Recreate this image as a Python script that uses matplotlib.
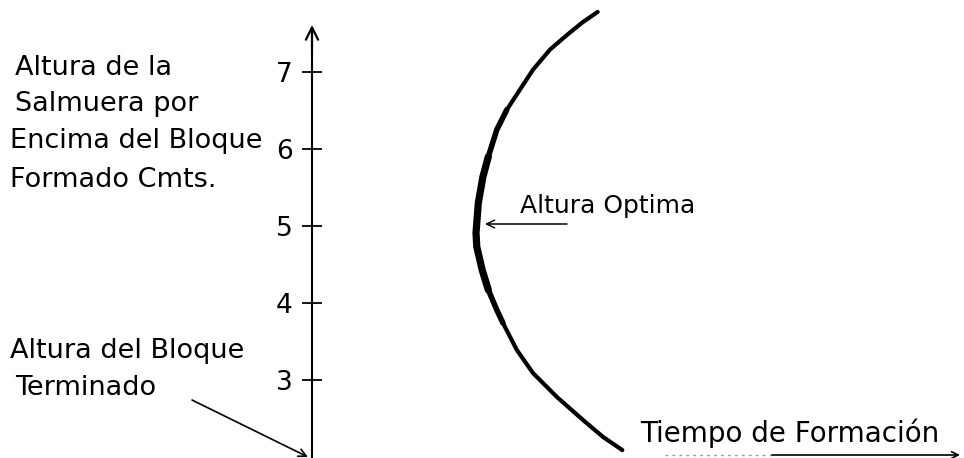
import numpy as np
from matplotlib import pyplot as plt

# curve: (time, height in cm)
tiempo = [3.71, 3.52, 3.31, 3.09, 2.87, 2.70, 2.53, 2.40, 2.29, 2.22, 2.16, 2.13,
          2.14, 2.21, 2.29, 2.40, 2.48, 2.66, 2.87, 3.18, 3.52, 3.78, 4.03]
altura = [7.78, 7.65, 7.48, 7.29, 7.03, 6.77, 6.51, 6.25, 5.90, 5.64, 5.30, 4.91,
          4.73, 4.43, 4.17, 3.91, 3.74, 3.39, 3.09, 2.78, 2.48, 2.26, 2.09]
y_ticks = [3, 4, 5, 6, 7]
y_tick_labels = ["3", "4", "5", "6", "7"]

W, H = 964, 458
FONT = "DejaVu Sans"


def px(x, y):
    # pixel position -> axes fraction (axes covers the figure)
    return x / W, 1 - y / H


fig = plt.figure(figsize=(W / 100, H / 100), dpi=100)
ax = fig.add_axes([0, 0, 1, 1])
ax.set_xlim(-312 / 77, 652 / 77)
ax.set_ylim(2 - 1 / 77, 2 + 457 / 77)

for s in ["top", "right", "bottom"]:
    ax.spines[s].set_visible(False)
ax.spines["left"].set_position(("data", 0))
ax.spines["left"].set_linewidth(1.5)
ax.spines["left"].set_bounds(2 - 1 / 77, 7.4)
ax.set_xticks([])
ax.set_yticks(y_ticks)
ax.set_yticklabels(y_tick_labels, fontsize=19, family=FONT)
ax.tick_params(axis="y", direction="inout", length=14, width=1.3, pad=7)

# arrow head on the y axis
ax.annotate("", xy=(0, 2 + 432 / 77), xytext=(0, 7.3),
            arrowprops=dict(arrowstyle="->", lw=1.6, color="black",
                            mutation_scale=22, shrinkA=0, shrinkB=0))

# the curve, thicker around the optimum
t = np.array(tiempo)
a = np.array(altura)
style = dict(color="black", solid_capstyle="round", solid_joinstyle="round")
ax.plot(t, a, lw=3.0, **style)
mid = (a > 3.6) & (a < 6.6)
ax.plot(t[mid], a[mid], lw=4.0, **style)
core = (a > 4.1) & (a < 5.95)
ax.plot(t[core], a[core], lw=5.2, **style)

# left labels
left_lines = [("Altura de la", 15, 75), ("Salmuera por", 15, 111),
              ("Encima del Bloque", 10, 148), ("Formado Cmts.", 10, 187),
              ("Altura del Bloque", 10, 358), ("Terminado", 15, 395)]
for txt, x, y in left_lines:
    ax.text(*px(x, y), txt, transform=ax.transAxes, fontsize=19.5,
            family=FONT, ha="left", va="baseline")

# arrow to the block height
ax.annotate("", xy=px(308, 457), xytext=px(192, 400), xycoords="axes fraction",
            textcoords="axes fraction",
            arrowprops=dict(arrowstyle="->", lw=1.2, color="black",
                            mutation_scale=14, shrinkA=0, shrinkB=0))

# optimum height
ax.text(*px(520, 213), "Altura Optima", transform=ax.transAxes, fontsize=18,
        family=FONT, ha="left", va="baseline")
ax.annotate("", xy=px(485, 224), xytext=px(567, 224), xycoords="axes fraction",
            textcoords="axes fraction",
            arrowprops=dict(arrowstyle="->", lw=1.1, color="black",
                            mutation_scale=14, shrinkA=0, shrinkB=0))

# time axis
ax.text(*px(640, 442), "Tiempo de Formación", transform=ax.transAxes, fontsize=20,
        family=FONT, ha="left", va="baseline")
ax.plot([665 / W, 772 / W], [1 - 455 / H, 1 - 455 / H], transform=ax.transAxes,
        color="0.6", lw=1.0, ls=(0, (2, 3)), clip_on=False)
ax.annotate("", xy=px(960, 455), xytext=px(772, 455), xycoords="axes fraction",
            textcoords="axes fraction",
            arrowprops=dict(arrowstyle="->", lw=1.2, color="black",
                            mutation_scale=12, shrinkA=0, shrinkB=0))

plt.savefig("out.png", dpi=100)
